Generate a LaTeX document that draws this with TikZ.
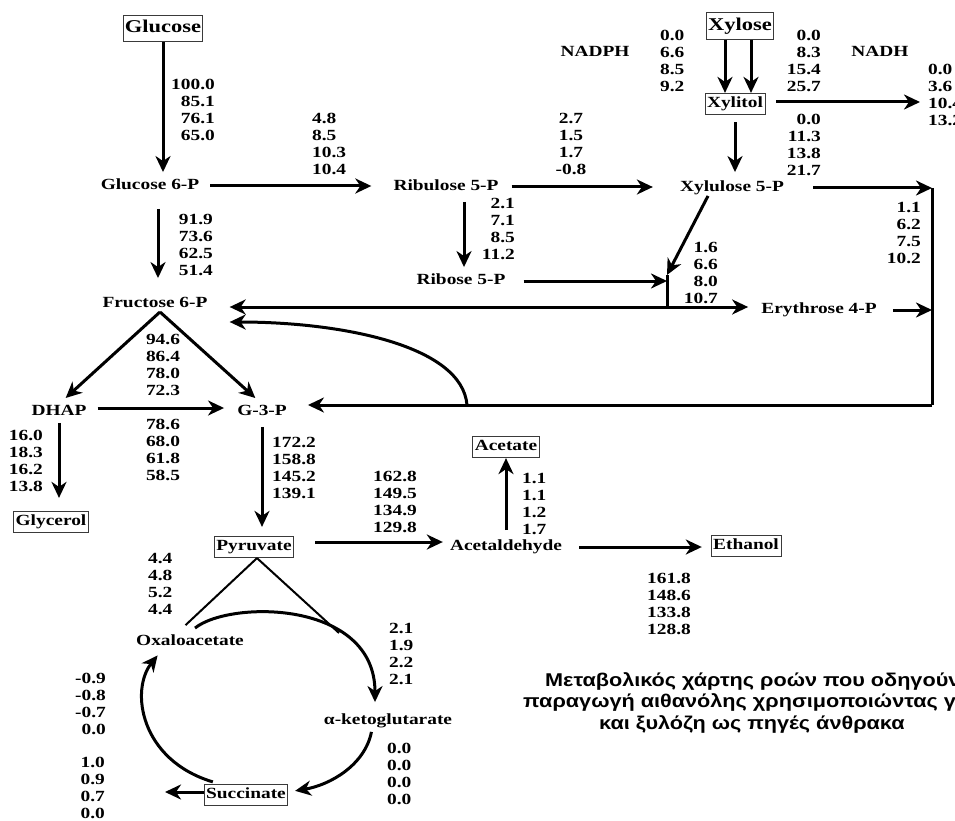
\documentclass[tikz,border=0pt]{standalone}
\usepackage{fontspec}
\setmainfont{Liberation Serif}[FakeStretch=1.25]
\newfontfamily\capfont{Liberation Sans}[FakeStretch=1.17]
\usepackage{tikz}
\usetikzlibrary{arrows.meta,calc,positioning}
\definecolor{boxgray}{HTML}{3A3A3A}
\tikzset{
  metnode/.style={font=\bfseries\fontsize{15.5}{17.2}\selectfont, text height=10.5pt, text depth=3pt, inner sep=1pt},
  metbox/.style={metnode, draw=boxgray, line width=0.7pt, inner xsep=2pt, inner ysep=4pt},
  sugarbox/.style={metbox, font=\bfseries\fontsize{18}{21}\selectfont, text height=12.5pt, text depth=4pt, inner xsep=1.5pt, inner ysep=5pt},
  flux/.style={font=\bfseries\fontsize{15.5}{17.2}\selectfont, inner sep=0pt},
  fluxl/.style={flux, align=left},
  fluxr/.style={flux, align=right},
  fluxc/.style={flux, align=center},
  flow/.style={-{Stealth[length=16pt,width=15pt,inset=5pt]}, line width=3pt},
  link/.style={line width=3pt},
  caption/.style={font=\capfont\bfseries\fontsize{18.5}{21.5}\selectfont, align=left, inner sep=0pt}
}

\begin{document}
\begin{tikzpicture}[x=1pt,y=-1pt]
  \useasboundingbox (0,0) rectangle (955,821);
  \clip (0,0) rectangle (955,821);
  % metabolites
  \node[sugarbox] (glc) at (163,28.5) {Glucose};
  \node[sugarbox] (xyl) at (740,26) {Xylose};
  \node[metbox] (xoh) at (735,104) {Xylitol};
  \node[metnode] (g6p) at (150,186) {Glucose 6-P};
  \node[metnode] (ru5p) at (446,187) {Ribulose 5-P};
  \node[metnode] (xu5p) at (732,188) {Xylulose 5-P};
  \node[metnode] (r5p) at (461,281) {Ribose 5-P};
  \node[metnode] (f6p) at (155,304) {Fructose 6-P};
  \node[metnode] (e4p) at (819,310) {Erythrose 4-P};
  \node[metnode] (dhap) at (59,412) {DHAP};
  \node[metnode] (g3p) at (262,412) {G-3-P};
  \node[metbox] (gly) at (51,522) {Glycerol};
  \node[metbox] (pyr) at (254,547) {Pyruvate};
  \node[metbox] (ace) at (506,447) {Acetate};
  \node[metnode] (acd) at (506,547) {Acetaldehyde};
  \node[metbox] (eth) at (746,546) {Ethanol};
  \node[metnode] (oaa) at (190,642) {Oxaloacetate};
  \node[metnode] (akg) at (388,721) {α-ketoglutarate};
  \node[metbox] (suc) at (246,795) {Succinate};
  \node[metnode] (nadph) at (595,53) {NADPH};
  \node[metnode] (nadh) at (880,53) {NADH};

  % flux values
  \node[fluxr, anchor=north east] (vglc) at (215,78.7) {100.0\\85.1\\76.1\\65.0};
  \node[fluxl, anchor=north west] (vppp) at (312,112.7) {4.8\\8.5\\10.3\\10.4};
  \node[fluxr, anchor=north east] (vpgi) at (213,213.7) {91.9\\73.6\\62.5\\51.4};
  \node[fluxc, anchor=north] (vrpe) at (571,112.7) {2.7\\1.5\\1.7\\-0.8};
  \node[fluxr, anchor=north east] (vrpi) at (515,197.7) {2.1\\7.1\\8.5\\11.2};
  \node[fluxl, anchor=north west] (vxr) at (660,29.7) {0.0\\6.6\\8.5\\9.2};
  \node[fluxr, anchor=north east] (vxr2) at (821,29.7) {0.0\\8.3\\15.4\\25.7};
  \node[fluxl, anchor=north west] (vxout) at (928,63.7) {0.0\\3.6\\10.4\\13.2};
  \node[fluxr, anchor=north east] (vxdh) at (821,113.7) {0.0\\11.3\\13.8\\21.7};
  \node[fluxr, anchor=north east] (vtkt) at (921,201.7) {1.1\\6.2\\7.5\\10.2};
  \node[fluxr, anchor=north east] (vtal) at (718,241.7) {1.6\\6.6\\8.0\\10.7};
  \node[fluxc, anchor=north] (vald) at (163,333.7) {94.6\\86.4\\78.0\\72.3};
  \node[fluxc, anchor=north] (vtpi) at (163,418.7) {78.6\\68.0\\61.8\\58.5};
  \node[fluxr, anchor=north east] (vgpd) at (43,429.7) {16.0\\18.3\\16.2\\13.8};
  \node[fluxl, anchor=north west] (vgap) at (272,436.7) {172.2\\158.8\\145.2\\139.1};
  \node[fluxr, anchor=north east] (vpdc) at (417,470.7) {162.8\\149.5\\134.9\\129.8};
  \node[fluxl, anchor=north west] (vald2) at (522,472.7) {1.1\\1.1\\1.2\\1.7};
  \node[fluxl, anchor=north west] (vadh) at (647,572.7) {161.8\\148.6\\133.8\\128.8};
  \node[fluxl, anchor=north west] (vpyc) at (148,552.7) {4.4\\4.8\\5.2\\4.4};
  \node[fluxl, anchor=north west] (vcs) at (389,622.7) {2.1\\1.9\\2.2\\2.1};
  \node[fluxl, anchor=north west] (vkgd) at (387,742.7) {0.0\\0.0\\0.0\\0.0};
  \node[fluxr, anchor=north east] (vfum) at (106,672.7) {-0.9\\-0.8\\-0.7\\0.0};
  \node[fluxr, anchor=north east] (vsuc) at (105,756.5) {1.0\\0.9\\0.7\\0.0};

  % caption
  \node[caption, anchor=north west] (capt) at (523,672) {\hspace*{22pt}Μεταβολικός χάρτης ροών που οδηγούν στην\\παραγωγή αιθανόλης χρησιμοποιώντας γλυκόζη\\\hspace*{76pt}και ξυλόζη ως πηγές άνθρακα};

  % junction points
  \coordinate (jtop) at (667,275);
  \coordinate (jn) at (667,307);
  \coordinate (ne) at (932,188);
  \coordinate (se) at (932,405);
  \coordinate (bend) at (467,405);
  \coordinate (tcaj) at (339,633);
  \coordinate (sucout) at (165,792);

  % glycolysis
  \draw[flow, shorten >=6pt] (glc) -- (glc |- g6p.north);
  \draw[flow, shorten <=10pt, shorten >=21pt] (g6p.east) -- (g6p.east -| ru5p.west);
  \draw[flow, shorten <=15pt, shorten >=18pt] ([xshift=8pt]g6p.south) -- ([xshift=8pt]g6p.south |- f6p.north);
  \draw[flow, shorten >=9pt] ([xshift=5pt]f6p.south) -- (dhap.north);
  \draw[flow, shorten >=9pt] ([xshift=5pt]f6p.south) -- (g3p.north);
  \draw[flow, shorten <=10pt, shorten >=12pt] ([yshift=4pt]dhap.east) -- ([yshift=4pt]g3p.west);
  \draw[flow, shorten <=3pt, shorten >=13pt] (dhap.south) -- (dhap.south |- gly.north);
  \draw[flow, shorten <=7pt, shorten >=9pt] (g3p.south) -- (g3p.south |- pyr.north);
  \draw[flow, shorten <=21pt, shorten >=6pt] ([yshift=5pt]pyr.east) -- ([yshift=5pt]pyr.east -| acd.west);
  \draw[flow, shorten <=9pt] (acd.north) -- (acd.north |- ace.south);
  \draw[flow, shorten <=16pt, shorten >=9pt] (acd.east) -- (acd.east -| eth.west);

  % pentose phosphate pathway
  \draw[flow, shorten <=7pt, shorten >=6pt] ([xshift=18pt]ru5p.south) -- ([xshift=18pt]ru5p.south |- r5p.north);
  \draw[flow, shorten <=12pt, shorten >=26pt] (ru5p.east) -- (ru5p.east -| xu5p.west);
  \draw[flow, shorten <=17pt] (r5p.east) -- (r5p.east -| jtop);
  \draw[flow] ([xshift=-24pt]xu5p.south) -- (jtop);
  \draw[link] (jtop) -- (jn);
  \draw[flow, shorten >=21pt] (jn) -- (jn -| f6p.east);
  \draw[flow, shorten >=12pt] (jn) -- (jn -| e4p.west);
  \draw[flow, shorten <=28pt] (xu5p.east) -- (ne);
  \draw[link] (ne) -- (se);
  \draw[flow, shorten <=15pt] (e4p.east) -- (e4p.east -| ne);
  \draw[flow, shorten >=20pt] (se) -- (se -| g3p.east);
  \draw[flow, shorten >=21pt] (bend) .. controls (462,345) and (340,322) .. ([yshift=-18pt]f6p.east);

  % xylose branch
  \draw[flow] ([xshift=-15pt]xyl.south) -- ([xshift=-15pt]xyl.south |- xoh.north);
  \draw[flow] ([xshift=11pt]xyl.south) -- ([xshift=11pt]xyl.south |- xoh.north);
  \draw[flow, shorten <=11pt, shorten >=8pt] ([yshift=2pt]xoh.east) -- ([yshift=2pt]xoh.east -| vxout.west);
  \draw[flow, shorten <=7pt, shorten >=8pt] (xoh.south) -- (xoh.south |- xu5p.north);

  % TCA cycle
  \draw[link, line width=2pt, shorten >=13pt] ([xshift=3pt]pyr.south) -- ([xshift=-14pt]oaa.north);
  \draw[link, line width=2pt] ([xshift=3pt]pyr.south) -- (tcaj);
  \draw[flow, shorten >=11pt] ([xshift=5pt,yshift=6pt]oaa.north) .. controls (230,600) and (375,600) .. ([xshift=-13pt]akg.north);
  \draw[flow, shorten <=3pt, shorten >=7pt] ([xshift=-16pt]akg.south) .. controls (365,765) and (330,785) .. ([yshift=3pt]suc.east);
  \draw[flow] ([yshift=3pt]suc.west) -- (sucout);
  \draw[flow, shorten >=7pt] ([xshift=9pt,yshift=2pt]suc.north west) .. controls (140,760) and (130,690) .. ([xshift=-28pt]oaa.south);
\end{tikzpicture}
\end{document}
